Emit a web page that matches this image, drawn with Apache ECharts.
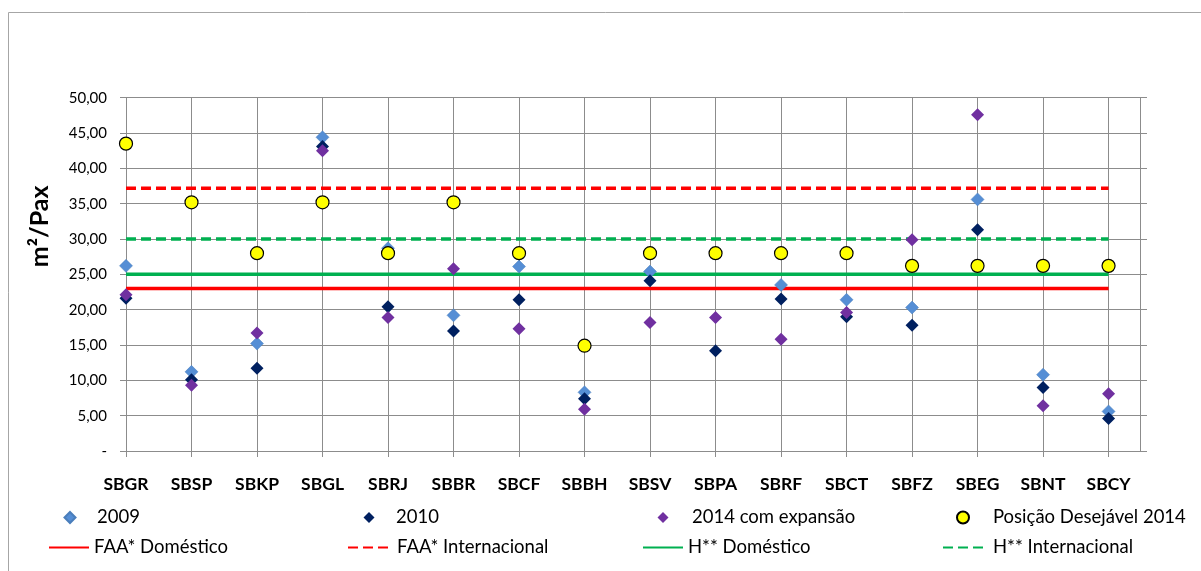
<!DOCTYPE html>
<html>
<head>
<meta charset="utf-8">
<script src="https://cdn.jsdelivr.net/npm/echarts@6/dist/echarts.min.js"></script>
<style>html,body{margin:0;padding:0;background:#fff;}#c{width:1201px;height:571px;}</style>
</head>
<body>
<div id="c"></div>
<script>
const categories = ['SBGR','SBSP','SBKP','SBGL','SBRJ','SBBR','SBCF','SBBH','SBSV','SBPA','SBRF','SBCT','SBFZ','SBEG','SBNT','SBCY'];
const v2009 = [26.2,11.2,15.2,44.4,28.7,19.2,26.1,8.3,25.4,null,23.5,21.4,20.3,35.6,10.8,5.6];
const v2010 = [21.6,10.1,11.7,43.1,20.4,17.0,21.4,7.4,24.1,14.2,21.5,19.0,17.8,31.3,9.0,4.6];
const v2014 = [22.1,9.3,16.7,42.5,18.9,25.8,17.3,5.9,18.2,18.9,15.8,19.6,29.9,47.6,6.4,8.1];
const desired2014 = [43.5,35.2,28,35.2,28,35.2,28,14.9,28,28,28,28,26.2,26.2,26.2,26.2];
const faaDomestico = 23;
const faaInternacional = 37.2;
const hDomestico = 25;
const hInternacional = 30;

const FONT = 'Lato, "Open Sans", sans-serif';
const toPts = arr => arr.map((v,i)=> v==null ? null : [i+1, v]);
const hline = v => [[1, v], [categories.length, v]];

const chart = echarts.init(document.getElementById('c'), null, {renderer:'canvas'});
const grid = '#8c8c8c';

function legendItem(name, left, top, w, h, pad, icon){
  const d = icon ? {name:name, icon:icon} : {name:name};
  const o = {data:[d], left:left, top:top, itemWidth:w, itemHeight:h, padding:0,
    textStyle:{fontFamily:FONT, fontSize:18.5, color:'#000', padding:[0,0,0,pad]}};
  if (!icon) o.itemStyle = {opacity:0};
  return o;
}

chart.setOption({
  animation:false,
  backgroundColor:'#fff',
  graphic:[{type:'rect', shape:{x:8.5, y:12.5, width:1300, height:700}, style:{fill:'none', stroke:'#a6a6a6', lineWidth:1}, silent:true}],
  grid:{left:126, right:61, top:97.7, bottom:120, containLabel:false},
  xAxis:{type:'value', min:1, max:16.48, interval:1,
    axisLine:{show:true, lineStyle:{color:grid}},
    axisTick:{show:true, inside:false, length:6, lineStyle:{color:grid}},
    splitLine:{show:true, lineStyle:{color:grid, width:1}},
    axisLabel:{margin:24, fontFamily:FONT, fontSize:17.5, fontWeight:'bold', color:'#000', showMaxLabel:false,
      formatter:v => (Number.isInteger(v) && v>=1 && v<=categories.length) ? categories[v-1] : ''}},
  yAxis:[{type:'value', min:0, max:50, interval:5,
    name:'m²/Pax', nameLocation:'middle', nameGap:74,
    nameTextStyle:{fontFamily:FONT, fontSize:25, fontWeight:'bold', color:'#000', padding:[0,0,0,96]},
    axisLine:{show:true, lineStyle:{color:grid}},
    axisTick:{show:true, length:6, lineStyle:{color:grid}},
    splitLine:{show:true, lineStyle:{color:grid, width:1}},
    axisLabel:{margin:19, fontFamily:FONT, fontSize:15, color:'#000',
      formatter:v => v===0 ? '-' : v.toFixed(2).replace('.',',')}},
    {type:'value', position:'right', min:0, max:50, interval:5,
    axisLine:{show:true, lineStyle:{color:grid}},
    axisTick:{show:true, length:7, lineStyle:{color:grid}},
    splitLine:{show:false}, axisLabel:{show:false}}],
  legend:[
    legendItem('2009', 63.5, 508, 11, 11, 16.5, 'diamond'),
    legendItem('2010', 363.5, 508, 11, 11, 16.5, 'diamond'),
    legendItem('2014 com expansão', 657.5, 508, 11, 11, 18.5, 'diamond'),
    legendItem('Posição Desejável 2014', 956, 508, 12, 12, 19, 'circle'),
    legendItem('FAA* Doméstico', 48, 538, 40, 14, 0),
    legendItem('FAA* Internacional', 347, 538, 41, 14, 3),
    legendItem('H** Doméstico', 642, 538, 40, 14, 0),
    legendItem('H** Internacional', 942, 538, 40, 14, 5)
  ],
  series:[
    {name:'FAA* Doméstico', type:'line', data:hline(faaDomestico), symbol:'none', lineStyle:{color:'#ff0000', width:3.5}, itemStyle:{color:'#ff0000'}, z:1},
    {name:'FAA* Internacional', type:'line', data:hline(faaInternacional), symbol:'none', lineStyle:{color:'#ff0000', width:3.5, type:[10,5]}, itemStyle:{color:'#ff0000'}, z:1},
    {name:'H** Doméstico', type:'line', data:hline(hDomestico), symbol:'none', lineStyle:{color:'#00b050', width:3.5}, itemStyle:{color:'#00b050'}, z:1},
    {name:'H** Internacional', type:'line', data:hline(hInternacional), symbol:'none', lineStyle:{color:'#00b050', width:3.5, type:[10,5]}, itemStyle:{color:'#00b050'}, z:1},
    {name:'2009', type:'scatter', data:toPts(v2009), symbol:'diamond', symbolSize:13, itemStyle:{color:'#558ed5', borderColor:'#4a7ebb', borderWidth:0.5, opacity:1}, z:3},
    {name:'2010', type:'scatter', data:toPts(v2010), symbol:'diamond', symbolSize:13, itemStyle:{color:'#002060', opacity:1}, z:4},
    {name:'2014 com expansão', type:'scatter', data:toPts(v2014), symbol:'diamond', symbolSize:13, itemStyle:{color:'#7030a0', opacity:1}, z:5},
    {name:'Posição Desejável 2014', type:'scatter', data:toPts(desired2014), symbol:'circle', symbolSize:13, itemStyle:{color:'#ffff00', borderColor:'#000', borderWidth:1.2, opacity:1}, z:6}
  ]
});
</script>
</body>
</html>
